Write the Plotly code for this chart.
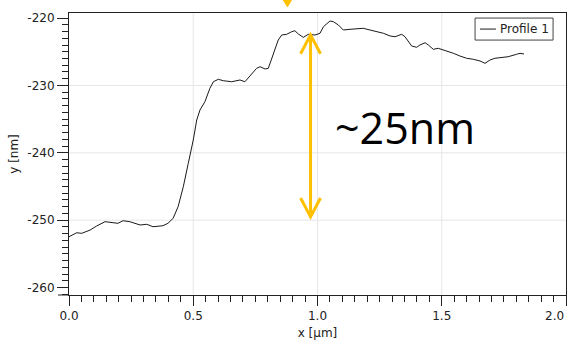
import plotly.graph_objects as go

# Height profile (x in µm, y in nm)
x_um = [0.000, 0.031, 0.051, 0.085, 0.111, 0.145, 0.177, 0.197, 0.217, 0.245,
        0.286, 0.313, 0.338, 0.378, 0.398, 0.413, 0.419, 0.439, 0.460, 0.480,
        0.500, 0.514, 0.527, 0.547, 0.567, 0.581, 0.601, 0.621, 0.655, 0.688,
        0.708, 0.728, 0.755, 0.769, 0.789, 0.802, 0.822, 0.842, 0.856, 0.876,
        0.896, 0.909, 0.923, 0.943, 0.963, 0.990, 1.010, 1.024, 1.050, 1.064,
        1.084, 1.104, 1.131, 1.164, 1.184, 1.211, 1.238, 1.265, 1.292, 1.312,
        1.339, 1.352, 1.379, 1.399, 1.412, 1.433, 1.446, 1.466, 1.486, 1.520,
        1.547, 1.573, 1.600, 1.627, 1.654, 1.674, 1.694, 1.714, 1.741, 1.767,
        1.801, 1.815, 1.831]
y_nm = [-252.45, -251.86, -251.95, -251.46, -250.86, -250.22, -250.37, -250.46, -250.08, -250.22,
        -250.71, -250.61, -250.97, -250.82, -250.46, -249.97, -249.72, -248.00, -245.03, -241.56,
        -238.10, -235.13, -233.65, -232.41, -230.43, -229.45, -229.09, -229.30, -229.45, -229.19,
        -229.45, -228.60, -227.46, -227.22, -227.56, -227.46, -225.23, -223.26, -222.52, -222.41,
        -222.03, -221.88, -222.37, -222.86, -222.41, -222.52, -222.26, -221.28, -220.44, -220.54,
        -221.03, -221.77, -221.67, -221.62, -221.52, -221.77, -222.03, -222.26, -222.66, -222.77,
        -222.41, -222.77, -224.15, -224.34, -224.00, -223.66, -224.00, -224.64, -224.49, -224.89,
        -225.23, -225.63, -225.97, -226.12, -226.37, -226.72, -226.23, -225.97, -225.82, -225.74,
        -225.38, -225.23, -225.33]

series_name = "Profile 1"
step_label = "~25nm"

x_range = [0.0, 2.0]
y_range = [-261.1, -219.25]
x_ticks = [0.0, 0.5, 1.0, 1.5, 2.0]
x_tick_text = ["0.0", "0.5", "1.0", "1.5", "2.0"]
y_ticks = [-260, -250, -240, -230, -220]
y_tick_text = ["-260", "-250", "-240", "-230", "-220"]
x_grid = [0.5, 1.0, 1.5]
y_grid = [-230, -240, -250]

# Step-height marker (µm position, nm endpoints)
arrow_x = 0.972
arrow_top = -222.5
arrow_bottom = -249.5
head_dx = 0.040
head_dy = 2.8

# Pointer coming from above the frame
pointer_x = 0.879

AXIS = "#222222"
GOLD = "#FFC000"
FONT = dict(family="DejaVu Sans", size=12, color=AXIS)

fig = go.Figure()
fig.add_trace(go.Scatter(x=x_um, y=y_nm, mode="lines", name=series_name,
                         line=dict(color="#1a1a1a", width=1), showlegend=False))

shapes = []
for gx in x_grid:
    shapes.append(dict(type="line", xref="x", yref="paper", x0=gx, x1=gx, y0=0, y1=1,
                       line=dict(color="#e6e6e6", width=1), layer="below"))
for gy in y_grid:
    shapes.append(dict(type="line", xref="paper", yref="y", x0=0, x1=1, y0=gy, y1=gy,
                       line=dict(color="#e6e6e6", width=1), layer="below"))

# Bottom axis line continues a little past the left axis
shapes.append(dict(type="line", xref="paper", yref="paper", x0=-11 / 497, x1=0, y0=0, y1=0,
                   line=dict(color=AXIS, width=1)))

# Double-headed vertical arrow with open heads
arrow_path = (f"M{arrow_x},{arrow_top} L{arrow_x},{arrow_bottom} "
              f"M{arrow_x - head_dx},{arrow_top - head_dy} L{arrow_x},{arrow_top} L{arrow_x + head_dx},{arrow_top - head_dy} "
              f"M{arrow_x - head_dx},{arrow_bottom + head_dy} L{arrow_x},{arrow_bottom} L{arrow_x + head_dx},{arrow_bottom + head_dy}")
shapes.append(dict(type="path", xref="x", yref="y", path=arrow_path,
                   line=dict(color=GOLD, width=3)))

# Filled arrow tip above the plot frame
pw = 0.018
shapes.append(dict(type="path", xref="x", yref="paper",
                   path=f"M{pointer_x - pw},1.048 L{pointer_x + pw},1.048 L{pointer_x},1.022 Z",
                   fillcolor=GOLD, line=dict(color=GOLD, width=1)))

# Legend box
shapes.append(dict(type="rect", xref="paper", yref="paper", x0=0.817, x1=0.974, y0=0.904, y1=0.982,
                   fillcolor="white", line=dict(color="#444444", width=1)))
shapes.append(dict(type="line", xref="paper", yref="paper", x0=0.827, x1=0.859, y0=0.943, y1=0.943,
                   line=dict(color="#1a1a1a", width=1)))

annotations = [
    dict(text=series_name, xref="paper", yref="paper", x=0.864, y=0.943,
         xanchor="left", yanchor="middle", showarrow=False, font=FONT),
    dict(text=step_label, xref="paper", yref="paper", x=0.676, y=(295 - 127) / 282,
         xanchor="center", yanchor="middle", showarrow=False,
         font=dict(family="Open Sans", size=43, color="black")),
    # last x label is pulled inside the right edge of the figure
    dict(text=x_tick_text[-1], xref="paper", yref="paper", x=1.0, y=-(316 - 295) / 282,
         xanchor="right", yanchor="middle", showarrow=False, font=FONT),
]

fig.update_layout(
    width=567, height=342,
    margin=dict(l=69, r=1, t=13, b=47),
    paper_bgcolor="white", plot_bgcolor="white",
    font=FONT,
    shapes=shapes, annotations=annotations,
    showlegend=False,
)
fig.update_xaxes(
    range=x_range, tickvals=x_ticks, ticktext=x_tick_text[:-1] + [""],
    ticks="outside", ticklen=10, tickwidth=1, tickcolor=AXIS,
    showline=True, linecolor=AXIS, linewidth=1, mirror=True,
    showgrid=False, zeroline=False, tickfont=FONT,
    minor=dict(ticks="outside", ticklen=6, dtick=0.05, tick0=0, tickcolor=AXIS, showgrid=False),
    title=dict(text="x [µm]", font=FONT, standoff=6),
)
fig.update_yaxes(
    range=y_range, tickvals=y_ticks, ticktext=y_tick_text,
    ticks="outside", ticklen=11, tickwidth=1, tickcolor=AXIS,
    showline=True, linecolor=AXIS, linewidth=1, mirror=True,
    showgrid=False, zeroline=False, tickfont=FONT,
    minor=dict(ticks="outside", ticklen=6, dtick=1, tick0=-260, tickcolor=AXIS, showgrid=False),
    title=dict(text="y [nm]", font=FONT, standoff=6),
)

fig.write_html("out.html")
